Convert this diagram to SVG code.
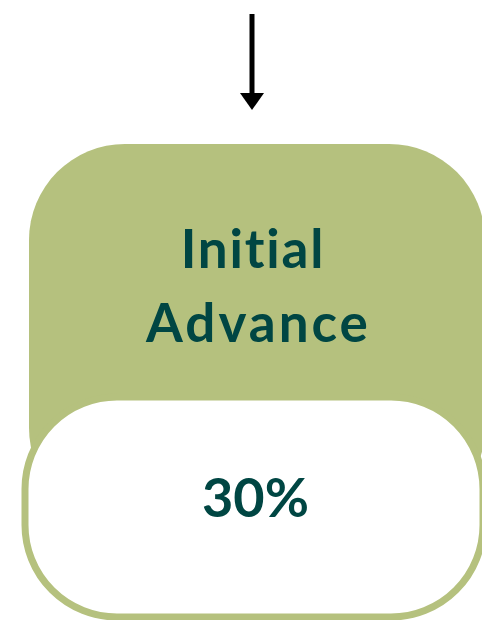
<svg xmlns="http://www.w3.org/2000/svg" width="482" height="620" viewBox="0 0 482 620">
  <style>
    .green { fill: #b5c17e; }
    .pill { fill: #ffffff; stroke: #b5c17e; stroke-width: 7; }
    .lbl { font-family: Lato, "Open Sans", sans-serif; font-weight: bold; fill: #004643; text-anchor: middle; font-variant-ligatures: none; }
    .conn { stroke: #000000; stroke-width: 5; fill: none; }
  </style>
  <g id="connectors">
    <line class="conn" x1="252" y1="14" x2="252" y2="96"/>
    <path d="M240,93 L264,93 L252,110 Z" fill="#000000"/>
  </g>
  <g id="node-initial-advance">
    <rect class="green" x="29" y="144" width="456" height="380" rx="96" ry="96"/>
    <text class="lbl" x="253" y="268" font-size="53" letter-spacing="1.8">Initial</text>
    <text class="lbl" x="258.5" y="342" font-size="53" letter-spacing="3">Advance</text>
  </g>
  <g id="node-percent">
    <rect class="pill" x="25" y="397" width="458" height="220" rx="92" ry="92"/>
    <text class="lbl" x="255.5" y="517" font-size="54">30%</text>
  </g>
</svg>
